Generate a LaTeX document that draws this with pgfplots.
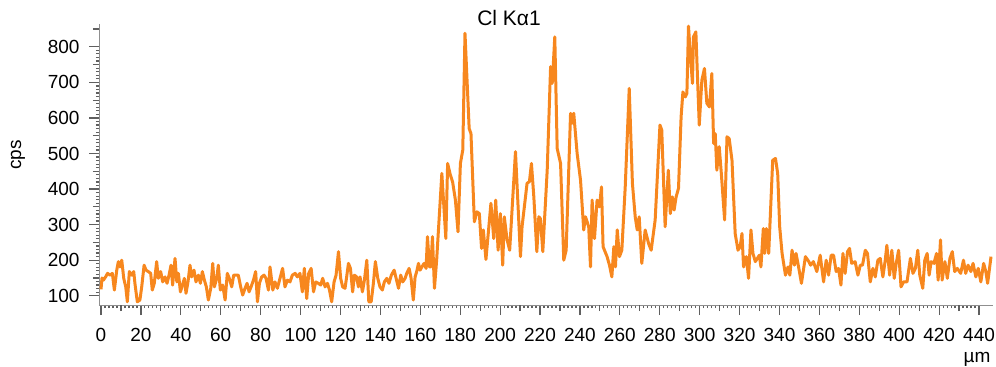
\documentclass[border=0pt]{standalone}
\usepackage{fontspec}
\setmainfont{Liberation Sans}
\usepackage{pgfplots}
\pgfplotsset{compat=1.18}
\definecolor{lineorange}{RGB}{247,135,30}
\definecolor{axgray}{RGB}{95,95,95}
\begin{document}
\begin{tikzpicture}
\path[use as bounding box] (-49.5pt,-30.5pt) rectangle (448.5pt,152.5pt);
\begin{axis}[
 scale only axis, width=447pt, height=140.5pt,
 xmin=-1, xmax=447, ymin=74, ymax=864,
 axis x line*=bottom, axis y line*=left,
 axis line style={axgray!70, line width=0.4pt},
 xtick={0,20,...,440}, ytick={100,200,...,800},
 minor x tick num=9, minor y tick num=9,
 tick align=outside,
 major tick length=5pt, minor tick length=1.5pt,
 every tick/.style={axgray, line width=0.6pt},
 extra x ticks={10,30,...,430}, extra x tick labels={},
 extra y ticks={150,250,...,850}, extra y tick labels={},
 extra tick style={major tick length=3pt},
 tick label style={font=\fontsize{9.5}{11}\selectfont},
 xticklabel style={yshift=-6pt, inner sep=0.5pt},
 yticklabel style={xshift=-1.2pt},
 /pgf/number format/assume math mode=true,
 clip=false,
]
\addplot[lineorange, line width=1.5pt, line join=round] coordinates {
(0,118)(0.5,150)(1.2,144)(2.3,153)(3.3,163)(4.5,158)(5.7,163)(6.7,116)(7.9,172)(8.7,196)(9.5,181)(10.4,200)(11.4,149)(12.4,125)(13.2,83)(14.2,168)(15.4,158)(16.4,168)(17,135)(18.2,83)(19.5,88)(20.4,125)(21.6,186)(22.6,172)(23.7,168)(24.9,163)(25.7,116)(26.7,135)(27.9,196)(28.7,149)(29.9,168)(30.9,139)(32.1,153)(33.1,135)(34.1,158)(35.1,186)(35.9,130)(37.1,205)(38,139)(38.8,163)(39.8,111)(40.8,130)(41.8,149)(42.6,107)(43.6,139)(44.6,186)(45.4,153)(46.6,172)(47.6,139)(48.8,158)(49.8,135)(50.8,168)(51.8,144)(52.8,125)(53.8,88)(55,121)(56,191)(56.8,125)(58,149)(58.8,186)(59.8,116)(61,130)(62.2,88)(63.3,163)(64.3,149)(65.5,125)(66.5,158)(67.7,158)(68.8,158)(70,125)(71,102)(72.2,121)(73.2,135)(74.2,111)(75.2,125)(76.4,144)(77.5,168)(78.4,83)(79.4,135)(80.5,153)(81.7,158)(82.7,149)(83.9,116)(84.7,181)
(86.1,116)(87.2,139)(88.4,121)(89.7,149)(91,177)(92.2,125)(93.4,144)(94.7,139)(95.9,158)(97.3,163)(98.4,153)(99.7,163)(100.9,111)(101.9,177)(103.1,92)(104.1,163)(105.3,177)(106.5,111)(107.6,139)(108.9,135)(110.1,130)(111.1,149)(112.3,125)(113.5,135)(114.5,116)(115.6,83)(116.8,139)(117.8,158)(119,224)(120.1,149)(121.1,125)(122.3,121)(123.1,153)(124,191)(125,177)(126.1,111)(127,158)(128.1,153)(129,125)(129.8,153)(131,111)(132,144)(133.2,200)(134.2,83)(135.4,83)(136.5,135)(137.5,196)(138.7,149)(139.8,125)(141,116)(142,139)(143.2,149)(144.3,135)(145.5,158)(146.9,172)(147.9,149)(149.1,121)(150.2,158)(151.2,139)(152.4,149)(153.2,163)(154.4,177)(155.4,149)(156.5,88)(157.4,153)(158.2,168)(159.1,191)(159.9,172)(160.8,181)(161.9,191)(162.9,177)(163.6,266)(164.6,181)(165.3,181)(166.1,266)(167.1,121)(168.2,200)
(170.8,444)(172.8,261)(173.7,472)(175,441)(176.2,420)(177.6,369)(178.9,280)(180.1,472)(181.3,510)(182.4,838)(184.5,570)(185.4,556)(187.1,308)(188.4,336)(189.6,331)(190.7,233)(191.6,285)(192.9,202)(195.4,360)(196.8,261)(197.8,369)(199,228)(200.1,331)(201.3,186)(202.1,322)(203.5,257)(204.8,228)(207.7,505)(210.2,210)(211,294)(213.5,416)(214.7,421)(215.7,472)(216.9,378)(218.4,224)(219.4,322)(220.2,317)(221.4,224)(223.6,453)(225.3,744)(226.1,697)(226.6,744)(227.4,828)(228.6,514)(230.3,472)(231.9,200)(233.1,228)(235.3,613)(236.1,585)(236.9,613)(238.6,500)(240.3,425)(241.9,285)(242.8,322)(244.4,294)(245.3,181)(246.1,369)(247.3,261)(248.6,369)(249.8,350)(250.8,406)(251.6,238)(253.6,210)(254.8,186)(256,153)(257,238)(257.8,181)(258.7,285)(259.8,210)
(261,228)(262.7,406)(264.7,683)(266.3,416)(267.7,322)(268.7,285)(269.7,322)(271,191)(272.7,285)(274.4,247)(275.7,228)(277.7,313)(280.1,580)(281,566)(282.7,294)(284.3,453)(285.3,331)(286.3,378)(287.2,341)(288.2,378)(289.4,402)(290.7,603)(291.6,673)(292.8,659)(293.6,669)(294.4,858)(295.4,772)(296.4,697)(296.9,828)(298.1,842)(298.9,716)(299.8,580)(301.1,706)(302.4,739)(303.6,641)(304.9,631)(306.1,725)(307,528)(307.8,556)(308.6,453)(309.8,519)(310.8,448)(312.5,313)(313.7,547)(314.8,542)(316.2,481)(317.8,275)(319.2,228)(320.3,238)(321.2,275)(322,181)(323.4,210)(324.5,149)(325.7,285)(326.7,219)(327.9,196)(329.9,214)(330.7,181)(331.9,289)(332.6,219)(333.4,289)(334.6,219)(336.6,481)(338,486)(339.1,444)(340.1,294)(341.3,219)(343,158)(344.3,181)(345.2,158)(346.3,228)(347.5,186)(348.3,219)(349.7,177)(351,135)(353,210)(354.7,196)
(355.6,186)(357,196)(358.7,168)(360.4,214)(362.1,139)(363.4,200)(364.6,158)(365.9,214)(367.1,214)(368.4,168)(369.6,177)(370.8,130)(371.8,219)(372.9,163)(374.1,224)(375.1,233)(376.2,191)(377.9,196)(379.3,158)(380.5,186)(381.6,186)(383,228)(384.1,219)(385.5,139)(386.8,177)(388,153)(389.3,200)(390.5,205)(391.8,153)(393,200)(393.8,242)(395.2,158)(396.3,228)(397.5,149)(398.5,191)(399.7,228)(400.9,125)(402.2,139)(403.9,139)(405.6,205)(406.9,163)(408.1,177)(409.3,228)(410.3,158)(411.8,121)(412.8,200)(414,219)(415,158)(416,196)(417.4,191)(418.7,219)(419.5,144)(420.7,257)(421.5,144)(422.9,196)(424.1,149)(425.4,205)(426.6,224)(427.8,168)(429.1,177)(430.8,163)(432.2,200)(433.3,163)(434.5,186)(435.9,168)(437,191)(438.4,153)(439.6,177)(440.9,139)(442.3,191)(443.4,168)(444.3,135)(446,210)
};
\end{axis}
\node[rotate=90, font=\fontsize{9.5}{11}\selectfont] at (-40.5pt,75pt) {cps};
\node[font=\fontsize{9.5}{11}\selectfont, inner sep=0pt] at (439pt,-27pt) {µm};
\node[font=\fontsize{10.5}{12}\selectfont] at (205pt,143.5pt) {Cl Kα1};
\end{tikzpicture}
\end{document}
